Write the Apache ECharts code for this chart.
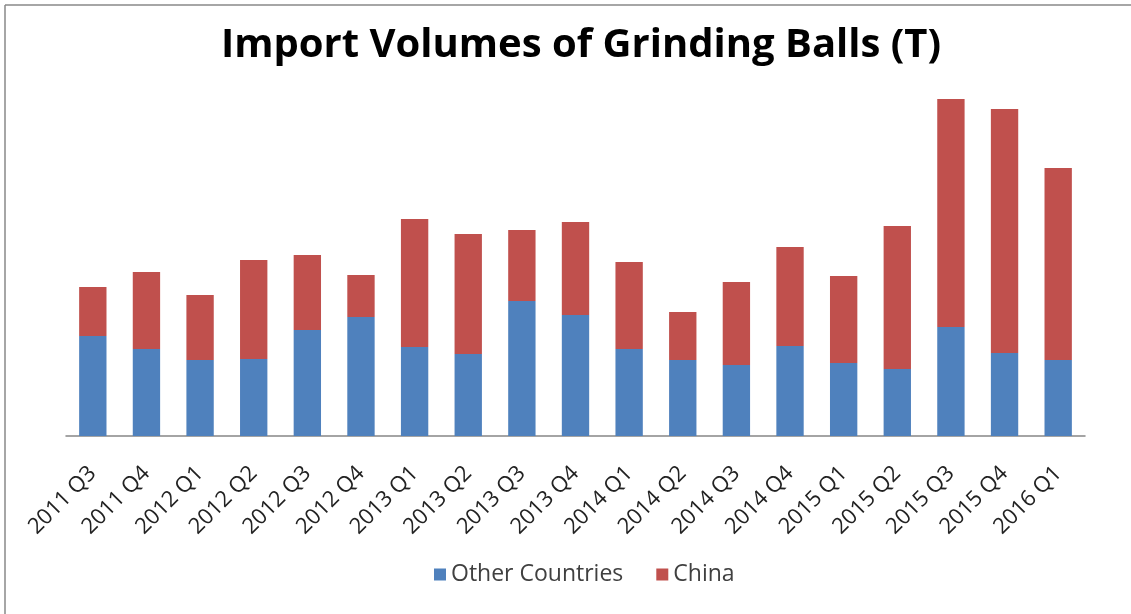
<!DOCTYPE html>
<html>
<head>
<meta charset="utf-8">
<title>Import Volumes of Grinding Balls</title>
<script src="https://cdn.jsdelivr.net/npm/echarts@6/dist/echarts.min.js"></script>
<style>
html, body { margin: 0; padding: 0; background: #fff; }
#chart { width: 1131px; height: 614px; }
</style>
</head>
<body>
<div id="chart"></div>
<script>
// quarters on the x axis
var quarters = ['2011 Q3', '2011 Q4', '2012 Q1', '2012 Q2', '2012 Q3', '2012 Q4',
	'2013 Q1', '2013 Q2', '2013 Q3', '2013 Q4', '2014 Q1', '2014 Q2', '2014 Q3',
	'2014 Q4', '2015 Q1', '2015 Q2', '2015 Q3', '2015 Q4', '2016 Q1'];

// values (no axis scale given, relative tonnes)
var otherCountries = [100, 87, 76, 77, 106, 119, 89, 82, 135, 121, 87, 76, 71, 90, 73, 67, 109, 83, 76];
var china = [49, 77, 65, 99, 75, 42, 128, 120, 71, 93, 87, 48, 83, 99, 87, 143, 228, 244, 192];

var chart = echarts.init(document.getElementById('chart'));

chart.setOption({
	animation : false,
	color : [ '#4f81bd', '#c0504d' ],
	title : {
		text : 'Import Volumes of Grinding Balls (T)',
		left : 216,
		top : 21,
		textStyle : {
			fontFamily : 'Open Sans',
			fontWeight : 'bold',
			fontSize : 40,
			color : '#000'
		}
	},
	legend : {
		bottom : 23,
		left : 429,
		itemWidth : 12,
		itemHeight : 12,
		itemGap : 33,
		icon : 'rect',
		textStyle : {
			fontFamily : 'Open Sans',
			fontSize : 23,
			color : '#404040'
		},
		data : [ 'Other Countries', 'China' ]
	},
	grid : {
		left : 66,
		right : 46,
		top : 86,
		bottom : 178
	},
	xAxis : {
		type : 'category',
		data : quarters,
		axisLine : { lineStyle : { color : '#868686', width : 1.5 } },
		axisTick : { show : false },
		axisLabel : {
			interval : 0,
			rotate : 45,
			margin : 34,
			fontFamily : 'Open Sans',
			fontSize : 22,
			color : '#222'
		}
	},
	yAxis : {
		type : 'value',
		min : 0,
		max : 350,
		show : false,
		splitLine : { show : false }
	},
	series : [ {
		name : 'Other Countries',
		type : 'bar',
		stack : 'total',
		barWidth : '51%',
		data : otherCountries
	}, {
		name : 'China',
		type : 'bar',
		stack : 'total',
		barWidth : '51%',
		data : china
	} ],
	graphic : [ {
		type : 'line',
		shape : { x1 : 5, y1 : 5, x2 : 1131, y2 : 5 },
		style : { stroke : '#888', lineWidth : 1.5 }
	}, {
		type : 'line',
		shape : { x1 : 5, y1 : 5, x2 : 5, y2 : 614 },
		style : { stroke : '#888', lineWidth : 1.5 }
	} ]
});
</script>
</body>
</html>
